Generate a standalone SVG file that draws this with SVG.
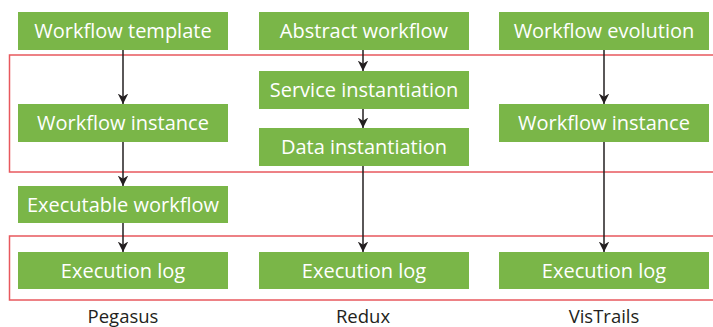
<svg xmlns="http://www.w3.org/2000/svg" width="713" height="327" viewBox="0 0 713 327">
<defs>
<style>
.box{fill:#7ab648}
.bt{fill:#ffffff;font-family:"Open Sans","Liberation Sans",sans-serif;font-size:20px;text-anchor:middle}
.lbl{fill:#231f20;font-family:"Open Sans","Liberation Sans",sans-serif;font-size:18.5px;text-anchor:middle}
.grp{fill:none;stroke:#e8585e;stroke-width:1.5}
.edge{stroke:#231f20;stroke-width:1.5;fill:none;marker-end:url(#ah)}
</style>
<marker id="ah" viewBox="0 0 10 10" refX="10" refY="5" markerWidth="7" markerHeight="7" markerUnits="strokeWidth" orient="auto">
<path d="M0,0 L10,5 L0,10 L3,5 Z" fill="#231f20"/>
</marker>
</defs>
<g id="groups">
<rect class="grp" x="9.5" y="55" width="720" height="117"/>
<rect class="grp" x="9.5" y="236" width="720" height="64"/>
</g>
<g id="connectors">
<line class="edge" x1="123" y1="50" x2="123" y2="104"/>
<line class="edge" x1="123" y1="142" x2="123" y2="186"/>
<line class="edge" x1="123" y1="223" x2="123" y2="252"/>
<line class="edge" x1="363" y1="50" x2="363" y2="71"/>
<line class="edge" x1="363" y1="109" x2="363" y2="128"/>
<line class="edge" x1="363" y1="166" x2="363" y2="252"/>
<line class="edge" x1="604" y1="50" x2="604" y2="104"/>
<line class="edge" x1="604" y1="142" x2="604" y2="252"/>
</g>
<g id="n-workflow-template"><rect class="box" x="18" y="12" width="210" height="38"/><text class="bt" x="123" y="37.5">Workflow template</text></g>
<g id="n-workflow-instance-1"><rect class="box" x="18" y="104" width="210" height="38"/><text class="bt" x="123" y="129.5">Workflow instance</text></g>
<g id="n-executable-workflow"><rect class="box" x="18" y="186" width="210" height="37"/><text class="bt" x="123" y="211.5">Executable workflow</text></g>
<g id="n-execution-log-1"><rect class="box" x="18" y="252" width="210" height="37"/><text class="bt" x="123" y="277.5">Execution log</text></g>
<g id="n-abstract-workflow"><rect class="box" x="259" y="12" width="210" height="38"/><text class="bt" x="364" y="37.5">Abstract workflow</text></g>
<g id="n-service-instantiation"><rect class="box" x="259" y="71" width="210" height="38"/><text class="bt" x="364" y="96.5">Service instantiation</text></g>
<g id="n-data-instantiation"><rect class="box" x="259" y="128" width="210" height="38"/><text class="bt" x="364" y="153.5">Data instantiation</text></g>
<g id="n-execution-log-2"><rect class="box" x="259" y="252" width="210" height="37"/><text class="bt" x="364" y="277.5">Execution log</text></g>
<g id="n-workflow-evolution"><rect class="box" x="499" y="12" width="210" height="38"/><text class="bt" x="604" y="37.5">Workflow evolution</text></g>
<g id="n-workflow-instance-2"><rect class="box" x="499" y="104" width="210" height="38"/><text class="bt" x="604" y="129.5">Workflow instance</text></g>
<g id="n-execution-log-3"><rect class="box" x="499" y="252" width="210" height="37"/><text class="bt" x="604" y="277.5">Execution log</text></g>
<g id="labels">
<text class="lbl" x="123" y="323">Pegasus</text>
<text class="lbl" x="363" y="323">Redux</text>
<text class="lbl" x="604" y="323">VisTrails</text>
</g>
</svg>
